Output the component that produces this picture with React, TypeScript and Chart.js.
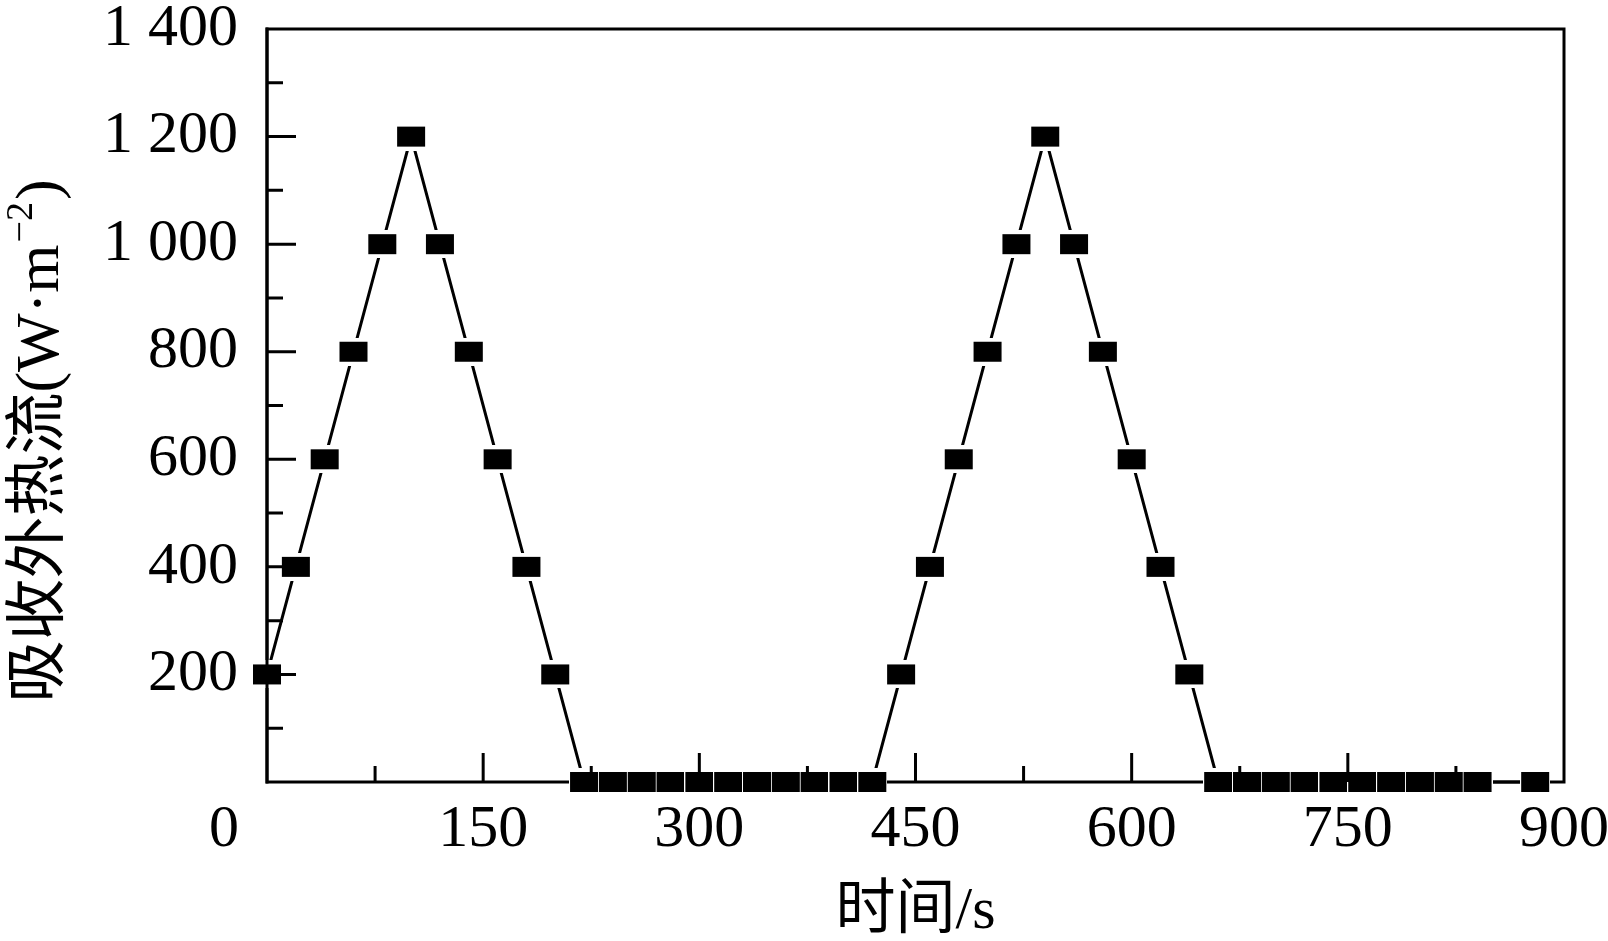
import React, { useEffect, useRef } from 'react';
import { Chart, registerables } from 'chart.js';

Chart.register(...registerables);

// ---- data ----
const timeSeconds = [
  0, 20, 40, 60, 80, 100, 120, 140, 160, 180, 200,
  220, 240, 260, 280, 300, 320, 340, 360, 380, 400, 420,
  440, 460, 480, 500, 520, 540, 560, 580, 600, 620, 640,
  660, 680, 700, 720, 740, 760, 780, 800, 820, 840, 880,
];
const absorbedHeatFlux = [
  200, 400, 600, 800, 1000, 1200, 1000, 800, 600, 400, 200,
  0, 0, 0, 0, 0, 0, 0, 0, 0, 0, 0,
  200, 400, 600, 800, 1000, 1200, 1000, 800, 600, 400, 200,
  0, 0, 0, 0, 0, 0, 0, 0, 0, 0, 0,
];

const xTickValues = [0, 150, 300, 450, 600, 750, 900];
const xTickLabels = ['0', '150', '300', '450', '600', '750', '900'];
const xMinorTicks = [75, 225, 375, 525, 675, 825];
const yTickValues = [0, 200, 400, 600, 800, 1000, 1200, 1400];
const yTickLabels = ['', '200', '400', '600', '800', '1 000', '1 200', '1 400'];
const yMinorTicks = [100, 300, 500, 700, 900, 1100, 1300];

const xAxisTitle = '时间/s';
const yAxisTitleMain = '吸收外热流(W·m';
const yAxisTitleSup = '−2';
const yAxisTitleEnd = ')';

const SERIF = "'Liberation Serif', 'Times New Roman', 'Noto Sans CJK SC', serif";

function makeMarker(): HTMLCanvasElement {
  const w = 28, h = 20, padX = 1, padY = 4;
  const c = document.createElement('canvas');
  c.width = w + padX * 2;
  c.height = h + padY * 2;
  const g = c.getContext('2d')!;
  g.fillStyle = '#fff';
  g.fillRect(0, 0, c.width, c.height);
  g.fillStyle = '#000';
  g.fillRect(padX, padY, w, h);
  return c;
}

const framePlugin = {
  id: 'frameBefore',
  beforeDatasetsDraw(chart: any) {
    const { ctx, chartArea: a } = chart;
    ctx.save();
    ctx.strokeStyle = '#000';
    ctx.lineWidth = 3;
    ctx.strokeRect(a.left, a.top, a.right - a.left, a.bottom - a.top);
    ctx.restore();
  },
  afterDatasetsDraw(chart: any) {
    const { ctx, chartArea: a, scales } = chart;
    const x = scales.x, y = scales.y;
    ctx.save();
    ctx.strokeStyle = '#000';
    ctx.lineWidth = 3;
    ctx.beginPath();
    ctx.moveTo(a.left, a.top - 1.5);
    ctx.lineTo(a.left, a.bottom + 1.5);
    for (const v of yTickValues) {
      if (v <= 0 || v >= 1400) continue;
      const p = y.getPixelForValue(v);
      ctx.moveTo(a.left, p);
      ctx.lineTo(a.left + 29, p);
    }
    for (const v of yMinorTicks) {
      const p = y.getPixelForValue(v);
      ctx.moveTo(a.left, p);
      ctx.lineTo(a.left + 16, p);
    }
    for (const v of xTickValues) {
      if (v <= 0 || v >= 900) continue;
      const p = x.getPixelForValue(v);
      ctx.moveTo(p, a.bottom);
      ctx.lineTo(p, a.bottom - 29);
    }
    for (const v of xMinorTicks) {
      const p = x.getPixelForValue(v);
      ctx.moveTo(p, a.bottom);
      ctx.lineTo(p, a.bottom - 16);
    }
    ctx.stroke();
    ctx.restore();
  },
  afterDraw(chart: any) {
    const { ctx, chartArea: a, scales } = chart;
    const x = scales.x;
    ctx.save();
    ctx.fillStyle = '#000';
    ctx.font = `60px ${SERIF}`;
    ctx.textAlign = 'center';
    ctx.textBaseline = 'middle';
    ctx.fillText(xTickLabels[0], x.getPixelForValue(0) - 43, a.bottom + 12 + 36);

    const mainFont = `62px ${SERIF}`;
    const supFont = `38px ${SERIF}`;
    ctx.font = mainFont;
    const wMain = ctx.measureText(yAxisTitleMain).width;
    const wEnd = ctx.measureText(yAxisTitleEnd).width;
    ctx.font = supFont;
    const wSup = ctx.measureText(yAxisTitleSup).width + 4;
    const total = wMain + wSup + wEnd;
    ctx.translate(0, 441);
    ctx.rotate(-Math.PI / 2);
    ctx.textAlign = 'left';
    ctx.textBaseline = 'alphabetic';
    let px = -total / 2;
    const base = 58;
    ctx.font = mainFont;
    ctx.fillText(yAxisTitleMain, px, base);
    px += wMain + 2;
    ctx.font = supFont;
    ctx.fillText(yAxisTitleSup, px, base - 26);
    px += wSup - 2;
    ctx.font = mainFont;
    ctx.fillText(yAxisTitleEnd, px, base);
    ctx.restore();
  },
};

export default function App() {
  const ref = useRef<HTMLCanvasElement>(null);

  useEffect(() => {
    if (!ref.current) return;
    const marker = makeMarker();
    const points = timeSeconds.map((t, i) => ({ x: t, y: absorbedHeatFlux[i] }));
    const chart = new Chart(ref.current, {
      type: 'line',
      data: {
        datasets: [
          {
            data: points,
            borderColor: '#000',
            borderWidth: 3,
            backgroundColor: '#000',
            pointStyle: marker as any,
            pointRadius: 10,
            tension: 0,
            clip: false as any,
          },
        ],
      },
      options: {
        responsive: false,
        devicePixelRatio: 1,
        animation: false,
        events: [],
        layout: { padding: { top: 29, right: 44, left: 0, bottom: 0 } },
        plugins: { legend: { display: false }, tooltip: { enabled: false } },
        scales: {
          x: {
            type: 'linear',
            min: 0,
            max: 900,
            afterFit: (s: any) => {
              s.height = 159;
              s.paddingLeft = 0;
              s.paddingRight = 0;
            },
            grid: { display: false, drawTicks: false },
            border: { display: false },
            ticks: {
              stepSize: 150,
              autoSkip: false,
              maxRotation: 0,
              padding: 12,
              color: '#000',
              font: { family: SERIF, size: 60 },
              callback: (v: any) => {
                const i = xTickValues.indexOf(Number(v));
                return i <= 0 ? '' : xTickLabels[i];
              },
            },
            title: {
              display: true,
              text: xAxisTitle,
              color: '#000',
              font: { family: SERIF, size: 60, lineHeight: 0.95 },
              padding: { top: 0, bottom: 0 },
            },
          },
          y: {
            type: 'linear',
            min: 0,
            max: 1400,
            afterFit: (s: any) => {
              s.width = 267;
              s.paddingTop = 0;
              s.paddingBottom = 0;
            },
            grid: { display: false, drawTicks: false },
            border: { display: false },
            ticks: {
              stepSize: 200,
              autoSkip: false,
              padding: 29,
              color: '#000',
              font: { family: SERIF, size: 60, lineHeight: 0.9 },
              callback: (v: any) => {
                const i = yTickValues.indexOf(Number(v));
                return i < 0 ? '' : yTickLabels[i];
              },
            },
          },
        },
      },
      plugins: [framePlugin],
    });
    return () => chart.destroy();
  }, []);

  return (
    <div style={{ position: 'fixed', left: 0, top: 0, width: 1608, height: 941, background: '#fff' }}>
      <canvas ref={ref} width={1608} height={941} style={{ display: 'block', width: 1608, height: 941 }} />
    </div>
  );
}
